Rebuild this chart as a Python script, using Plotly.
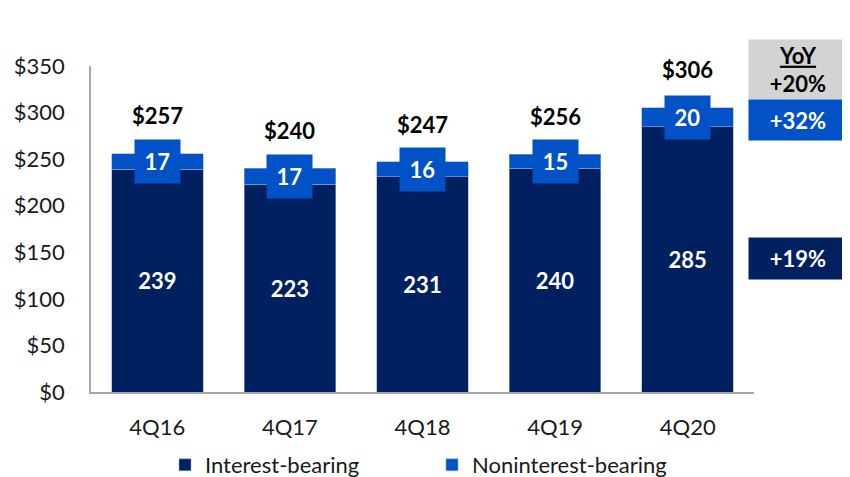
import plotly.graph_objects as go

categories = ["4Q16", "4Q17", "4Q18", "4Q19", "4Q20"]
interest_bearing = [239, 223, 231, 240, 285]
noninterest_bearing = [17, 17, 16, 15, 20]
totals = [257, 240, 247, 256, 306]
yoy_total = "+20%"
yoy_nonint = "+32%"
yoy_int = "+19%"
y_ticks = [0, 50, 100, 150, 200, 250, 300, 350]

NAVY = "#002060"
BLUE = "#0052C6"
FONT = "Lato"

fig = go.Figure()
fig.add_trace(go.Bar(
    x=categories, y=interest_bearing, name="Interest-bearing",
    marker=dict(color=NAVY, line=dict(color="#8EA9DB", width=0.6)),
    text=[str(v) for v in interest_bearing], textposition="inside",
    insidetextanchor="middle",
    textfont=dict(family=FONT, size=22, color="white", weight="bold"),
    hoverinfo="skip",
))
fig.add_trace(go.Bar(
    x=categories, y=noninterest_bearing, name="Noninterest-bearing",
    marker=dict(color=BLUE, line=dict(color="#8EA9DB", width=0.6)),
    hoverinfo="skip",
))

annotations = []
for c, i, n, t in zip(categories, interest_bearing, noninterest_bearing, totals):
    annotations.append(dict(
        x=c, y=i + n / 2, xref="x", yref="y", text=f"<b>{n}</b>",
        showarrow=False, bgcolor=BLUE, width=43, height=41,
        xanchor="center", yanchor="middle",
        font=dict(family=FONT, size=22, color="white"),
    ))
    annotations.append(dict(
        x=c, y=t, xref="x", yref="y", text=f"<b>${t}</b>",
        showarrow=False, xanchor="center", yanchor="bottom", yshift=22,
        font=dict(family=FONT, size=22, color="black"),
    ))

# target plot area in window pixels
PLOT_L, PLOT_W, PLOT_B, PLOT_H = 91, 663, 392, 326

def px_x(px):
    return (px - PLOT_L) / PLOT_W

def px_y(py):
    return (PLOT_B - py) / PLOT_H

annotations.append(dict(
    x=px_x(798), y=px_y(69.5), xref="paper", yref="paper",
    text=f"<b><u>YoY</u></b><br><b>{yoy_total}</b>", showarrow=False,
    xanchor="center", yanchor="middle",
    bgcolor="#D3D3D3", width=96, height=57, align="center",
    font=dict(family=FONT, size=22, color="black"),
))
annotations.append(dict(
    x=px_x(798), y=px_y(120), xref="paper", yref="paper",
    text=f"<b>{yoy_nonint}</b>", showarrow=False,
    xanchor="center", yanchor="middle",
    bgcolor=BLUE, width=96, height=38,
    font=dict(family=FONT, size=22, color="white"),
))
annotations.append(dict(
    x=px_x(798), y=px_y(258.5), xref="paper", yref="paper",
    text=f"<b>{yoy_int}</b>", showarrow=False,
    xanchor="center", yanchor="middle",
    bgcolor=NAVY, width=96, height=39,
    font=dict(family=FONT, size=22, color="white"),
))

# the page body adds an 8px offset; size the figure to fill the rest of the window
OFF = 8
W, H = 850 - OFF, 477 - OFF
ml = PLOT_L - OFF
mt = (PLOT_B - PLOT_H) - OFF
fig.update_layout(
    barmode="stack",
    bargap=0.31,
    width=W, height=H,
    margin=dict(l=ml, r=W - ml - PLOT_W, t=mt, b=H - (PLOT_B - OFF)),
    plot_bgcolor="white", paper_bgcolor="white",
    font=dict(family=FONT, size=20, color="#1a1a1a"),
    annotations=annotations,
    showlegend=True,
    legend=dict(
        orientation="h", xref="container", yref="container",
        x=157 / W, y=1 - 457 / H, xanchor="left", yanchor="middle",
        font=dict(family=FONT, size=22, color="#1a1a1a"),
        entrywidth=222, entrywidthmode="pixels",
        itemwidth=30, traceorder="normal",
    ),
    xaxis=dict(
        showline=True, linecolor="#A6A6A6", linewidth=1.5,
        tickfont=dict(family=FONT, size=22, color="#1a1a1a"),
        ticks="", showgrid=False, ticklabelstandoff=15,
        automargin=False, fixedrange=True,
    ),
    yaxis=dict(
        range=[0, 350], tickvals=y_ticks,
        ticktext=[f"${v}" for v in y_ticks],
        showline=True, linecolor="#A6A6A6", linewidth=1.5,
        showgrid=False, zeroline=False, ticks="",
        ticklabelstandoff=20, automargin=False,
        tickfont=dict(family=FONT, size=22, color="#1a1a1a"),
        fixedrange=True,
    ),
)

fig.write_html("out.html")
